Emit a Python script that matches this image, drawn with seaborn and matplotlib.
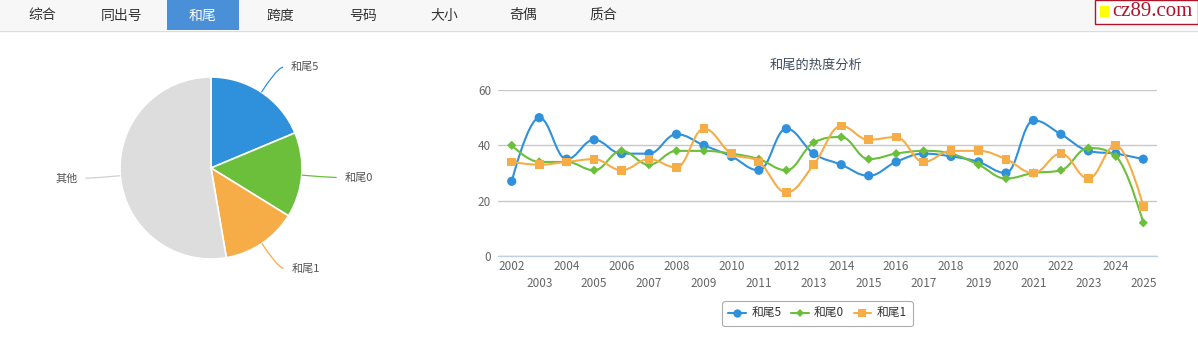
import numpy as np
import pandas as pd
import matplotlib
matplotlib.use("Agg")
import matplotlib.pyplot as plt
from matplotlib.path import Path
from matplotlib.patches import PathPatch, Rectangle
from matplotlib.lines import Line2D
import seaborn as sns

# ---- data ----
years = [str(y) for y in range(2002, 2026)]
tail5 = [27, 50, 35, 42, 37, 37, 44, 40, 36, 31, 46, 37, 33, 29, 34, 37, 36, 34, 30, 49, 44, 38, 37, 35]
tail0 = [40, 34, 34, 31, 38, 33, 38, 38, 37, 35, 31, 41, 43, 35, 37, 38, 37, 33, 28, 30, 31, 39, 36, 12]
tail1 = [34, 33, 34, 35, 31, 35, 32, 46, 37, 34, 23, 33, 47, 42, 43, 34, 38, 38, 35, 30, 37, 28, 40, 18]
series_names = ["和尾5", "和尾0", "和尾1"]
series_colors = ["#2f91dc", "#6bbf3a", "#f6ad47"]
series_markers = ["o", "D", "s"]

pie_labels = ["和尾5", "和尾0", "和尾1", "其他"]
pie_values = [18.7, 15.1, 13.5, 52.7]
pie_colors = ["#2f91dc", "#6bbf3a", "#f6ad47", "#dddddd"]

tabs = ["综合", "同出号", "和尾", "跨度", "号码", "大小", "奇偶", "质合"]
tab_centers = [42, 122, 203, 280, 363, 444, 523, 603]
active_tab = "和尾"

chart_title = "和尾的热度分析"

# ---- style ----
sns.set_theme(style="white")
FONT = ["Noto Sans CJK SC", "DejaVu Sans"]
plt.rcParams["font.family"] = FONT

W, H = 1198, 344
fig = plt.figure(figsize=(W / 100, H / 100), dpi=100)
fig.patch.set_facecolor("white")


def fx(px):
    return px / W


def fy(py):
    return 1 - py / H


# ---- tab bar ----
fig.patches.append(Rectangle((0, fy(30)), 1, 30 / H, transform=fig.transFigure,
                             facecolor="#f7f7f7", edgecolor="none", zorder=0))
fig.lines.append(Line2D([0, 1], [fy(30.5), fy(30.5)], transform=fig.transFigure,
                        color="#dcdcdc", lw=1))
for name, tx in zip(tabs, tab_centers):
    color = "#333333"
    if name == active_tab:
        fig.patches.append(Rectangle((fx(167), fy(30)), fx(72), 30 / H,
                                     transform=fig.transFigure,
                                     facecolor="#4a90d9", edgecolor="none", zorder=1))
        color = "white"
    fig.text(fx(tx), fy(15.5), name, ha="center", va="center", fontsize=10,
             color=color, zorder=2)

# site badge
fig.patches.append(Rectangle((fx(1094.5), fy(24)), fx(103), 23.5 / H, transform=fig.transFigure,
                             facecolor="white", edgecolor="#b0142a", lw=1.0, zorder=2))
fig.patches.append(Rectangle((fx(1100), fy(17)), fx(9), 11 / H, transform=fig.transFigure,
                             facecolor="#ffff00", edgecolor="none", zorder=3))
fig.text(fx(1112), fy(12), "cz89.com", ha="left", va="center", fontsize=15,
         color="#b0142a", family=["Liberation Serif", "DejaVu Serif"], zorder=3)

# ---- pie ----
pax = fig.add_axes([0, 0, 0.4, 1])
cx, cy, r = 211, H - 168, 91
wedges, _ = pax.pie(pie_values, colors=pie_colors, startangle=90, counterclock=False,
                    center=(cx, cy), radius=r, frame=True,
                    wedgeprops=dict(edgecolor="white", linewidth=1.2))
pax.set_xlim(0, 0.4 * W)
pax.set_ylim(0, H)
pax.set_aspect("equal")
pax.axis("off")

for w, lab, col in zip(wedges, pie_labels, pie_colors):
    ang = np.deg2rad((w.theta1 + w.theta2) / 2)
    d = np.array([np.cos(ang), np.sin(ang)])
    c = np.array([cx, cy])
    edge = c + r * d
    near = c + (r + 5) * d
    anchor = c + (r + 30) * d
    sign = 1 if d[0] >= 0 else -1
    end = anchor + np.array([sign * 5, 0])
    ctrl2 = 2 * near - edge
    path = Path([end, anchor, ctrl2, near, edge],
                [Path.MOVETO, Path.CURVE4, Path.CURVE4, Path.CURVE4, Path.LINETO])
    lc = col if lab != "其他" else "#d0d0d0"
    pax.add_patch(PathPatch(path, facecolor="none", edgecolor=lc, lw=0.9))
    pax.text(end[0] + sign * 8, end[1], lab, ha="left" if sign > 0 else "right",
             va="center", fontsize=8, color="#555555")

# ---- line chart ----
ax = fig.add_axes([fx(498), fy(256), fx(1157 - 498), (256 - 90) / H])
ax.set_facecolor("white")


def spline_path(xs, ys, smoothing=1.5):
    n = len(xs)
    left = [None] * n
    right = [None] * n
    right[0] = (xs[0], ys[0])
    left[-1] = (xs[-1], ys[-1])
    den = smoothing + 1
    for i in range(1, n - 1):
        px, py = xs[i], ys[i]
        lx, ly = xs[i - 1], ys[i - 1]
        nx, ny = xs[i + 1], ys[i + 1]
        lcx = (smoothing * px + lx) / den
        lcy = (smoothing * py + ly) / den
        rcx = (smoothing * px + nx) / den
        rcy = (smoothing * py + ny) / den
        if rcx != lcx:
            corr = ((rcy - lcy) * (rcx - px)) / (rcx - lcx) + py - rcy
            lcy += corr
            rcy += corr
        if lcy > ly and lcy > py:
            lcy = max(ly, py)
            rcy = 2 * py - lcy
        elif lcy < ly and lcy < py:
            lcy = min(ly, py)
            rcy = 2 * py - lcy
        if rcy > ny and rcy > py:
            rcy = max(ny, py)
            lcy = 2 * py - rcy
        elif rcy < ny and rcy < py:
            rcy = min(ny, py)
            lcy = 2 * py - rcy
        left[i] = (lcx, lcy)
        right[i] = (rcx, rcy)
    verts = [(xs[0], ys[0])]
    codes = [Path.MOVETO]
    for i in range(1, n):
        verts += [right[i - 1], left[i], (xs[i], ys[i])]
        codes += [Path.CURVE4] * 3
    return Path(verts, codes)


df = pd.DataFrame({
    "year": years * 3,
    "idx": list(range(len(years))) * 3,
    "value": tail5 + tail0 + tail1,
    "series": sum([[s] * len(years) for s in series_names], []),
})

sizes = {"和尾5": 44, "和尾0": 22, "和尾1": 40}
for k, (name, col, mk) in enumerate(zip(series_names, series_colors, series_markers)):
    sub = df[df["series"] == name]
    ax.add_patch(PathPatch(spline_path(sub["idx"].to_numpy(float), sub["value"].to_numpy(float)),
                           facecolor="none", edgecolor=col, lw=1.5, zorder=3 + 2 * k,
                           capstyle="round", joinstyle="round"))
    sns.scatterplot(data=sub, x="idx", y="value", color=col, marker=mk, s=sizes[name],
                    edgecolor="none", ax=ax, zorder=4 + 2 * k, legend=False)

ax.set_xlim(-0.5, len(years) - 0.5)
ax.set_ylim(0, 60)
ax.set_xlabel("")
ax.set_ylabel("")
ax.set_yticks([0, 20, 40, 60])
ax.yaxis.grid(True, color="#c8c8c8", lw=1)
ax.xaxis.grid(False)
for s in ["top", "right", "left"]:
    ax.spines[s].set_visible(False)
ax.spines["bottom"].set_color("#c0d0e0")
ax.spines["bottom"].set_linewidth(1)
ax.tick_params(axis="y", length=0, pad=5, labelsize=8.5, labelcolor="#666666")

ax.set_xticks(range(len(years)))
ax.set_xticklabels(years)
ax.tick_params(axis="x", which="major", length=0, labelsize=8.5, labelcolor="#666666")
for i, t in enumerate(ax.xaxis.get_major_ticks()):
    t.set_pad(3 if i % 2 == 0 else 15)
ax.set_xticks(np.arange(-0.5, len(years), 1.0), minor=True)
ax.tick_params(axis="x", which="minor", length=4, width=1, color="#c0d0e0", direction="out")

ax.set_title(chart_title, fontsize=9.5, color="#3e4a5e", pad=15,
             x=(816.5 - 498) / (1157 - 498))

handles = [Line2D([], [], color=c, lw=1.5, marker=m,
                  markersize=6 if m != "D" else 4, markeredgewidth=0)
           for c, m in zip(series_colors, series_markers)]
leg = ax.legend(handles, series_names, loc="center", bbox_to_anchor=((817.5 - 498) / 659, -0.348),
                ncol=3, frameon=True, fontsize=8.5, handlelength=1.5, handletextpad=0.45,
                columnspacing=0.8, borderpad=0.5, borderaxespad=0, fancybox=True)
leg.get_frame().set_edgecolor("#999999")
leg.get_frame().set_linewidth(0.8)
for t in leg.get_texts():
    t.set_color("#333333")

fig.savefig("out.png", dpi=100)
